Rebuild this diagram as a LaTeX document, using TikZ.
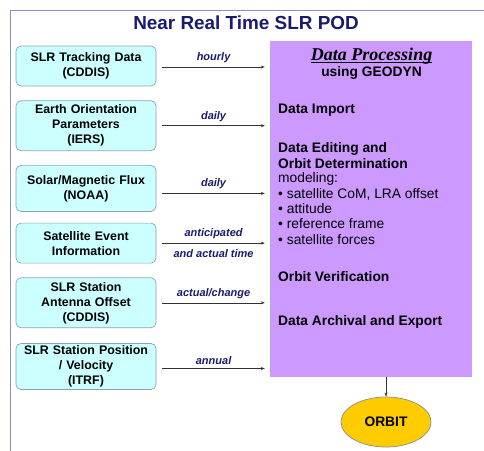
\documentclass[tikz,border=0pt]{standalone}
\usepackage{fontspec}
\setmainfont{Liberation Sans}
\newfontfamily\headserif{Liberation Serif}
\usetikzlibrary{%
    arrows.meta,
    positioning,
    shapes.geometric
}

\definecolor{titlenavy}{HTML}{1A1A70}
\definecolor{srcfill}{HTML}{CCFFFF}
\definecolor{srcline}{HTML}{8CA6A6}
\definecolor{procfill}{HTML}{CC99FF}
\definecolor{orbitfill}{HTML}{FFCC00}
\definecolor{framecol}{HTML}{8C8CC8}

\tikzset{
    srcbox/.style={draw=srcline, fill=srcfill, rounded corners=5bp,
                   text width=130bp, inner xsep=5bp, inner ysep=0pt,
                   align=center, line width=0.7bp,
                   font=\bfseries\fontsize{12.4bp}{15bp}\selectfont},
    flow/.style={draw=black!80, line width=0.6bp,
                 -{Stealth[length=4bp,width=3bp]}},
    lbl/.style={text=titlenavy, inner sep=1bp,
                font=\bfseries\itshape\fontsize{11bp}{13bp}\selectfont},
    procline/.style={anchor=west, inner sep=0pt,
                     font=\bfseries\fontsize{13.8bp}{15bp}\selectfont},
    procitem/.style={anchor=west, inner sep=0pt,
                     font=\fontsize{13.8bp}{15bp}\selectfont}
}

\begin{document}
\begin{tikzpicture}[x=1bp, y=-1bp]
    \useasboundingbox (0,0) rectangle (484,451);

    % frame and title
    \draw[framecol, line width=1bp] (10.5,451) -- (10.5,10.5) -- (484,10.5);
    \node[text=titlenavy, font=\bfseries\fontsize{18.9bp}{22bp}\selectfont]
        (title) at (246,23) {Near Real Time SLR POD};

    % sources
    \node[srcbox, minimum height=40bp] (tracking) at (86,66)
        {SLR Tracking Data\\(CDDIS)};
    \node[srcbox, minimum height=50bp, below=14bp of tracking] (eop)
        {Earth Orientation\\Parameters\\(IERS)};
    \node[srcbox, minimum height=46bp, below=14bp of eop] (flux)
        {Solar/Magnetic Flux\\(NOAA)};
    \node[srcbox, minimum height=40bp, below=11bp of flux] (event)
        {Satellite Event\\Information};
    \node[srcbox, minimum height=50bp, below=14bp of event] (antenna)
        {SLR Station\\Antenna Offset\\(CDDIS)};
    \node[srcbox, minimum height=46bp, below=15bp of antenna] (itrf)
        {SLR Station Position\\/ Velocity\\(ITRF)};

    % processing block
    \node[fill=procfill, minimum width=202bp, minimum height=336bp,
          inner sep=0pt] (proc) at (371,209) {};

    \node[font=\headserif\bfseries\itshape\fontsize{18bp}{20bp}\selectfont,
          anchor=base, inner sep=0pt] (head) at (371.5,61) {Data Processing};
    \draw[line width=0.8bp] ([yshift=-1.8bp]head.base west)
        -- ([yshift=-1.8bp]head.base east);
    \node[font=\bfseries\fontsize{13.8bp}{15bp}\selectfont, anchor=base,
          inner sep=0pt] (geodyn) at (371.5,77) {using GEODYN};

    \node[procline] (import)  at (278,110) {Data Import};
    \node[procline] (edit)    at (278,149) {Data Editing and};
    \node[procline] (orbdet)  at (278,164) {Orbit Determination};
    \node[procitem] (model)   at (278,179) {modeling:};
    \node[procitem] (com)     at (278,194) {\textbullet\ satellite CoM, LRA offset};
    \node[procitem] (att)     at (278,209) {\textbullet\ attitude};
    \node[procitem] (frame)   at (278,224) {\textbullet\ reference frame};
    \node[procitem] (forces)  at (278,240) {\textbullet\ satellite forces};
    \node[procline] (verify)  at (278,277) {Orbit Verification};
    \node[procline] (archive) at (278,322) {Data Archival and Export};

    % inputs
    \foreach \Src/\Dy/\Label in {%
        tracking/-1/hourly,
        eop/0/daily,
        flux/-5/daily,
        event/0/anticipated,
        antenna/0/{actual/change},
        itrf/-2/annual%
        }
        \draw[flow] ([xshift=6bp, yshift=\Dy bp]\Src.east)
            -- ([xshift=-5bp, yshift=\Dy bp]proc.west |- \Src.east)
            coordinate[midway] (mid-\Src)
            node[midway, above=3bp, lbl] {\Label};
    \node[lbl, below=5bp of mid-event] (actual) {and actual time};

    % result
    \node[ellipse, draw=black!45, fill=orbitfill, line width=0.7bp,
          minimum width=90bp, minimum height=50bp,
          font=\bfseries\fontsize{13.8bp}{15bp}\selectfont]
        (orbit) at (386,422) {ORBIT};
    \draw[flow] (orbit.north |- proc.south) -- (orbit.north);
\end{tikzpicture}
\end{document}
